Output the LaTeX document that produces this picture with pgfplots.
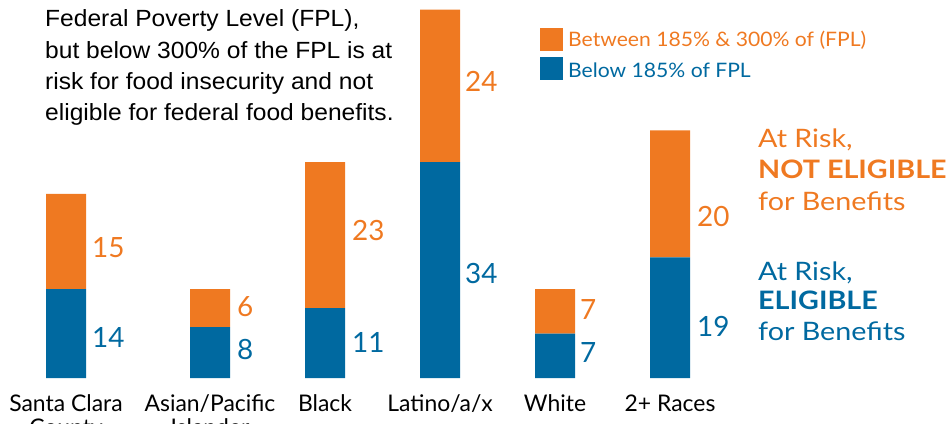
\documentclass[border=0pt]{standalone}
\usepackage{pgfplots}
\pgfplotsset{compat=1.18}
\usepackage{fontspec}
\setmainfont{Lato}
\newfontfamily\widefont{Lato}[FakeStretch=1.13]
\newfontfamily\legendfont{Lato}[FakeStretch=1.06]
\newfontfamily\notefont{Liberation Sans}[FakeStretch=1.05]
\definecolor{riskorange}{RGB}{239,121,33}
\definecolor{riskblue}{RGB}{0,105,160}
\newcommand{\twoline}[2]{\begin{tabular}[t]{@{}c@{}}#1\\#2\end{tabular}}

\begin{document}
\begin{tikzpicture}[x=1bp,y=1bp]
\useasboundingbox (0,0) rectangle (948,423);
\clip (0,0) rectangle (948,423);
\begin{axis}[
  at={(0,0)}, anchor=south west, scale only axis,
  x=1bp, y=6.35bp,
  xmin=0, xmax=948, ymin=-7.087, ymax=59.53,
  ybar stacked, bar width=40bp,
  axis x line=middle, axis y line=none,
  x axis line style={draw=none},
  major tick length=0pt,
  xtick={66,210,325,440,555,670},
  xticklabels={{\twoline{Santa Clara}{County}},{\twoline{Asian/Pacific}{Islander}},{Black},{Latino/a/x},{White},{2+ Races}},
  xticklabel style={font=\fontsize{23}{25}\selectfont, anchor=base, inner sep=0pt, yshift=-33bp},
  clip=false,
]
% below 185% of FPL
\addplot[fill=riskblue, draw=none] coordinates {(66,14) (210,8) (325,11) (440,34) (555,7) (670,19)};
% between 185% and 300% of FPL
\addplot[fill=riskorange, draw=none] coordinates {(66,15) (210,6) (325,23) (440,24) (555,7) (670,20)};
\end{axis}

% value labels beside each segment
\begin{scope}[every node/.style={anchor=west, inner sep=0pt, font=\fontsize{28}{30}\selectfont}]
  \node[text=riskorange] at (92,175) {15};
  \node[text=riskblue]   at (92,86)  {14};
  \node[text=riskorange] at (237,116) {6};
  \node[text=riskblue]   at (237,73)  {8};
  \node[text=riskorange] at (352,192) {23};
  \node[text=riskblue]   at (352,81)  {11};
  \node[text=riskorange] at (465,342) {24};
  \node[text=riskblue]   at (465,149) {34};
  \node[text=riskorange] at (580,113) {7};
  \node[text=riskblue]   at (580,70)  {7};
  \node[text=riskorange] at (697,207) {20};
  \node[text=riskblue]   at (697,97)  {19};
\end{scope}

% explanatory note
\begin{scope}[every node/.style={anchor=base west, inner sep=0pt, font=\notefont\fontsize{23.5}{25}\selectfont}]
  \node at (45,396) {Federal Poverty Level (FPL),};
  \node at (45,365) {but below 300\% of the FPL is at};
  \node at (45,334) {risk for food insecurity and not};
  \node at (45,303) {eligible for federal food benefits.};
\end{scope}

% legend
\fill[riskorange] (540,395) rectangle (563,372);
\fill[riskblue]   (540,366) rectangle (563,343);
\begin{scope}[every node/.style={anchor=base west, inner sep=0pt, font=\legendfont\fontsize{20}{22}\selectfont}]
  \node[text=riskorange] at (568,377) {Between 185\% \& 300\% of (FPL)};
  \node[text=riskblue]   at (568,346) {Below 185\% of FPL};
\end{scope}

% eligibility annotations
\begin{scope}[every node/.style={anchor=base west, inner sep=0pt, font=\widefont\fontsize{25.5}{27}\selectfont}]
  \node[text=riskorange] at (758,276) {At Risk,};
  \node[text=riskorange] at (758,245) {\bfseries NOT ELIGIBLE};
  \node[text=riskorange] at (758,213) {for Benefits};
  \node[text=riskblue]   at (758,143) {At Risk,};
  \node[text=riskblue]   at (758,114) {\bfseries ELIGIBLE};
  \node[text=riskblue]   at (758,83)  {for Benefits};
\end{scope}
\end{tikzpicture}
\end{document}
